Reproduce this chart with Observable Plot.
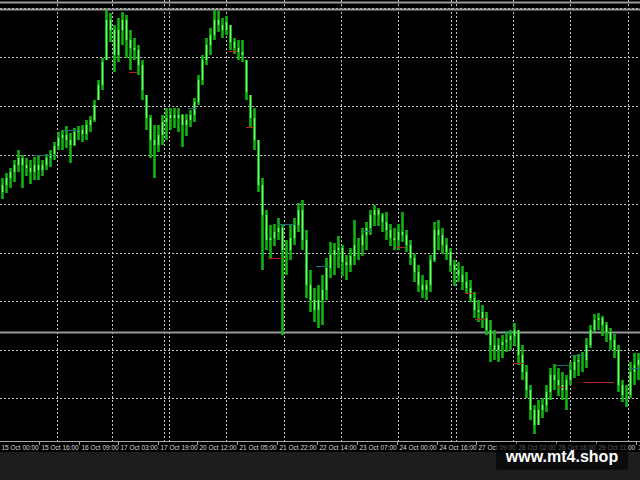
<!DOCTYPE html>
<html><head><meta charset="utf-8">
<script src="https://cdn.jsdelivr.net/npm/d3@7"></script>
<script src="https://cdn.jsdelivr.net/npm/@observablehq/plot@0.6"></script>
<style>
html,body{margin:0;padding:0;background:#1d1d1d;width:640px;height:480px;overflow:hidden}
#chart{position:absolute;left:0;top:0}
#wm{position:absolute;left:496px;top:443px;width:132px;height:27px;background:rgba(0,0,0,0.62);color:#fff;font:bold 16px "Liberation Sans",Arial,sans-serif;text-align:center;line-height:28px;border-radius:2px}
</style></head>
<body><div id="chart"></div><div id="wm">www.mt4.shop</div>
<script>
// hourly bars (resampled), price in points
const firstOpen = 308;
const hi = [322,327,332,340,350,345,342,340,343,344,
340,346,350,358,368,370,374,367,372,374,
375,380,384,400,420,442,490,487,475,482,
488,485,470,462,455,440,405,385,375,375,
385,392,392,392,392,386,386,390,402,425,
445,462,472,490,489,482,484,475,462,460,
460,440,405,392,360,322,290,275,276,282,
275,260,275,282,297,300,270,230,212,215,
225,242,258,257,264,255,245,252,280,262,
272,278,290,295,292,287,288,276,272,276,
288,270,260,246,235,225,220,245,278,280,
272,262,252,240,238,234,228,220,208,200,
195,188,180,170,162,165,168,170,177,170,
155,135,115,95,100,102,115,132,136,132,
128,125,138,144,146,148,162,175,186,187,
184,178,172,166,155,120,115,138,147,147];
const lo = [301,307,312,318,328,312,324,316,320,320,
324,330,333,340,350,350,352,337,354,360,
358,360,368,378,400,410,440,458,428,438,
455,442,430,440,425,400,370,342,322,348,
355,360,370,372,368,353,364,373,378,395,
415,435,445,460,468,462,465,450,446,440,
438,400,373,350,308,230,250,242,254,260,
165,225,240,255,268,250,202,188,178,172,
175,200,222,225,232,224,220,228,235,240,
244,250,265,274,274,268,260,254,250,250,
258,248,235,218,208,202,200,208,238,250,
246,240,228,214,218,210,206,198,182,178,
172,165,138,140,138,142,148,150,154,135,
120,102,80,66,75,82,88,100,110,104,
100,90,115,122,124,128,132,152,168,170,
164,158,150,142,108,98,93,102,115,120];
const close = [315,322,328,335,342,335,332,328,335,330,
335,342,346,354,362,365,360,355,368,370,
366,375,380,395,415,438,480,470,445,470,
480,460,452,450,435,410,382,360,355,365,
378,382,385,382,385,375,380,385,398,420,
440,455,465,480,475,470,478,458,452,448,
445,408,382,360,315,285,260,262,268,272,
250,250,262,275,290,260,215,200,190,200,
210,232,245,250,252,238,235,244,255,255,
265,272,285,290,285,278,270,262,260,268,
265,255,242,228,215,210,215,240,270,265,
255,248,235,230,225,218,212,202,190,188,
182,170,155,150,155,158,160,164,170,145,
128,110,90,75,90,95,108,125,120,115,
110,120,130,138,140,140,155,170,180,182,
175,168,160,150,115,105,105,128,135,140];

// grid, levels, axis
const gridX = [13.75,27.5,40.5,41.75,56,70.5,84.75,99,112.25,113.5,127.75,142,156.5];
const gridY = [102,150,199,247,296,345,394,443,492];
const levelLines = [498,491,168];
const tickPos = [-0.75,9.25,19.25,29,39,48.75,58.75,68.75,78.75,88.75,98.75,108.75,118.5,128.5,138.5,148.5,158.5];
const tickLabels = ["15 Oct 00:00","15 Oct 16:00","16 Oct 09:00","17 Oct 03:00","17 Oct 19:00","20 Oct 12:00","21 Oct 05:00","21 Oct 22:00","22 Oct 14:00","23 Oct 07:00","24 Oct 00:00","24 Oct 16:00","27 Oct 09:00","28 Oct 02:00","28 Oct 18:00","29 Oct 11:00","30 Oct 04:00"];

// indicator segments
const segFrom  = [31.75,56.75,61,66.5,98.5,115.75,118.25,127.75,139,145.25, 8.25,15.25,46.5,69,78.5,90.25,124.75,138.5,142.25,157];
const segTo    = [33.75,59,63,70,100.75,118,121,130.25,140.5,153, 12.75,19.5,48.75,73.25,82,92.25,127.75,141.75,146,159.5];
const segLevel = [428,449,373,242,253,207,181,137,113,118, 345,370,392,276,234,269,169,135,145,132];
const segKind  = ["r","r","r","r","r","r","r","r","r","r","t","t","t","t","t","t","t","t","t","t"];

const bars = hi.map((h, i) => {
  const o = i === 0 ? firstOpen : close[i - 1];
  const c = close[i];
  const clamp = v => Math.max(lo[i], Math.min(h, v));
  return {i, hi: h, lo: lo[i], o: clamp(o), c: clamp(c)};
});
const segs = segFrom.map((f, k) => ({x1: f, x2: segTo[k], y: segLevel[k], kind: segKind[k]}));

const chart = Plot.plot({
  width: 640, height: 452,
  marginTop: 0, marginLeft: 0, marginRight: 0, marginBottom: 11,
  style: {background: "#000", overflow: "visible"},
  x: {domain: [-0.5, 159.5], axis: null},
  y: {domain: [59, 500], axis: null},
  marks: [
    Plot.ruleX(gridX, {stroke: "#c4c4c4", strokeDasharray: "2,2", strokeWidth: 1}),
    Plot.ruleY(gridY, {stroke: "#c4c4c4", strokeDasharray: "2,2", strokeWidth: 1}),
    Plot.ruleY(levelLines, {stroke: "#9a9a9a", strokeWidth: 2}),
    Plot.ruleX(bars, {x: "i", y1: "lo", y2: "hi", stroke: "#10b410", strokeWidth: 2.6}),
    Plot.ruleX(bars, {x: "i", y1: "o", y2: "c", stroke: "#6cff6c", strokeWidth: 1.4}),
    Plot.ruleY(segs, {x1: "x1", x2: "x2", y: "y", stroke: d => d.kind === "r" ? "#b42222" : "#1f6f78", strokeWidth: 1}),
    Plot.ruleY([59], {stroke: "#a8a8a8", strokeWidth: 1}),
    Plot.axisX(tickPos, {anchor: "bottom", tickSize: 4, tickFormat: () => "", stroke: "#a8a8a8"}),
    Plot.text(tickPos, {x: d => d, text: (d, i) => tickLabels[i], frameAnchor: "bottom", dy: 6.5, dx: 2,
      textAnchor: "start", lineAnchor: "middle", fill: "#d8d8d8", fontSize: 6.5,
      fontFamily: "'Liberation Sans', Arial, sans-serif"})
  ]
});
document.getElementById("chart").append(chart);
</script>
</body></html>
